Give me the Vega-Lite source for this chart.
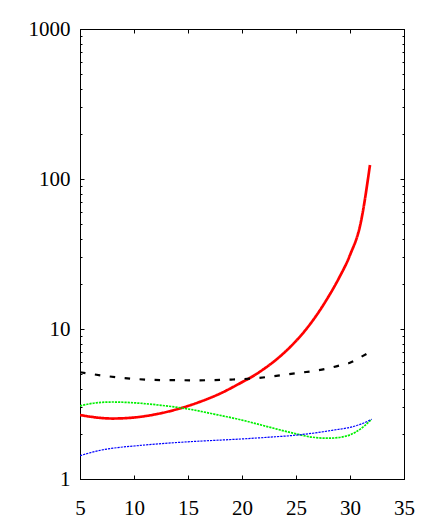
{
  "$schema": "https://vega.github.io/schema/vega-lite/v6.json",
  "width": 324,
  "height": 450,
  "autosize": "none",
  "padding": {"left": 80, "top": 29, "right": 39, "bottom": 47},
  "background": "white",
  "config": {
    "view": {"stroke": "black", "strokeWidth": 1},
    "axis": {"labelFont": "Liberation Serif", "labelFontSize": 21, "labelColor": "black", "grid": false, "domainColor": "black", "tickColor": "black", "tickWidth": 1, "labelOverlap": false, "labelBound": false, "labelFlush": false}
  },
  "data": {
    "values": [
      {"x": 5, "y": 2.67, "s": "red"}, {"x": 6, "y": 2.6, "s": "red"}, {"x": 7, "y": 2.55, "s": "red"}, {"x": 8, "y": 2.53, "s": "red"}, {"x": 9, "y": 2.54, "s": "red"}, {"x": 10, "y": 2.57, "s": "red"}, {"x": 12, "y": 2.7, "s": "red"}, {"x": 14, "y": 2.92, "s": "red"}, {"x": 16, "y": 3.25, "s": "red"}, {"x": 18, "y": 3.72, "s": "red"}, {"x": 20, "y": 4.42, "s": "red"}, {"x": 21, "y": 4.84, "s": "red"}, {"x": 22, "y": 5.4, "s": "red"}, {"x": 23, "y": 6.11, "s": "red"}, {"x": 24, "y": 7.05, "s": "red"}, {"x": 25, "y": 8.32, "s": "red"}, {"x": 26, "y": 10.09, "s": "red"}, {"x": 27, "y": 12.65, "s": "red"}, {"x": 28, "y": 16.4, "s": "red"}, {"x": 29, "y": 22.0, "s": "red"}, {"x": 30, "y": 31.1, "s": "red"}, {"x": 31, "y": 51.3, "s": "red"}, {"x": 31.85, "y": 124, "s": "red"},
      {"x": 5, "y": 5.15, "s": "black"}, {"x": 7, "y": 4.9, "s": "black"}, {"x": 10, "y": 4.65, "s": "black"}, {"x": 13, "y": 4.56, "s": "black"}, {"x": 16, "y": 4.55, "s": "black"}, {"x": 19, "y": 4.6, "s": "black"}, {"x": 21, "y": 4.68, "s": "black"}, {"x": 23, "y": 4.85, "s": "black"}, {"x": 25, "y": 5.07, "s": "black"}, {"x": 27, "y": 5.3, "s": "black"}, {"x": 28, "y": 5.47, "s": "black"}, {"x": 29, "y": 5.7, "s": "black"}, {"x": 30, "y": 5.95, "s": "black"}, {"x": 31, "y": 6.5, "s": "black"}, {"x": 32, "y": 7.1, "s": "black"},
      {"x": 5, "y": 3.07, "s": "green"}, {"x": 6.5, "y": 3.22, "s": "green"}, {"x": 8, "y": 3.26, "s": "green"}, {"x": 10, "y": 3.22, "s": "green"}, {"x": 12.5, "y": 3.1, "s": "green"}, {"x": 15, "y": 2.93, "s": "green"}, {"x": 17.5, "y": 2.7, "s": "green"}, {"x": 20, "y": 2.47, "s": "green"}, {"x": 22.5, "y": 2.22, "s": "green"}, {"x": 25, "y": 2.0, "s": "green"}, {"x": 26.5, "y": 1.9, "s": "green"}, {"x": 28, "y": 1.87, "s": "green"}, {"x": 29.5, "y": 1.92, "s": "green"}, {"x": 30.5, "y": 2.05, "s": "green"}, {"x": 31.3, "y": 2.25, "s": "green"}, {"x": 32, "y": 2.5, "s": "green"},
      {"x": 5, "y": 1.43, "s": "blue"}, {"x": 6, "y": 1.5, "s": "blue"}, {"x": 7, "y": 1.56, "s": "blue"}, {"x": 8.5, "y": 1.62, "s": "blue"}, {"x": 10, "y": 1.66, "s": "blue"}, {"x": 12.5, "y": 1.72, "s": "blue"}, {"x": 15, "y": 1.77, "s": "blue"}, {"x": 17.5, "y": 1.81, "s": "blue"}, {"x": 20, "y": 1.85, "s": "blue"}, {"x": 22.5, "y": 1.9, "s": "blue"}, {"x": 25, "y": 1.96, "s": "blue"}, {"x": 27, "y": 2.04, "s": "blue"}, {"x": 28.5, "y": 2.12, "s": "blue"}, {"x": 30, "y": 2.21, "s": "blue"}, {"x": 31, "y": 2.32, "s": "blue"}, {"x": 32, "y": 2.5, "s": "blue"}
    ]
  },
  "resolve": {"axis": {"x": "independent", "y": "independent"}},
  "layer": [
    {
      "mark": {"type": "line", "interpolate": "monotone", "clip": true},
      "encoding": {
        "x": {"field": "x", "type": "quantitative", "scale": {"domain": [5, 35], "nice": false, "zero": false},
          "axis": {"orient": "bottom", "title": null, "values": [5, 10, 15, 20, 25, 30, 35], "tickSize": -4, "labelPadding": 22, "format": "d"}},
        "y": {"field": "y", "type": "quantitative", "scale": {"type": "log", "domain": [1, 1000], "nice": false},
          "axis": {"orient": "left", "title": null, "values": [1,2,3,4,5,6,7,8,9,10,20,30,40,50,60,70,80,90,100,200,300,400,500,600,700,800,900,1000],
            "tickSize": {"condition": {"test": "datum.value == 1 || datum.value == 10 || datum.value == 100 || datum.value == 1000", "value": -4}, "value": -2},
            "labelExpr": "(datum.value == 1 || datum.value == 10 || datum.value == 100 || datum.value == 1000) ? format(datum.value, 'd') : ''",
            "labelPadding": 14}},
        "color": {"field": "s", "type": "nominal", "scale": {"domain": ["red", "black", "green", "blue"], "range": ["#ff0000", "#000000", "#00f000", "#0000ff"]}, "legend": null},
        "strokeDash": {"field": "s", "type": "nominal", "scale": {"domain": ["red", "black", "green", "blue"], "range": [[1, 0], [5.5, 9.5], [2.2, 1], [2.2, 1]]}, "legend": null},
        "strokeWidth": {"field": "s", "type": "nominal", "scale": {"domain": ["red", "black", "green", "blue"], "range": [2.7, 1.2, 3.3, 3]}, "legend": null}
      }
    },
    {
      "mark": {"type": "point", "opacity": 0},
      "encoding": {
        "x": {"field": "x", "type": "quantitative",
          "axis": {"orient": "top", "title": null, "values": [5, 10, 15, 20, 25, 30, 35], "tickSize": -4, "labels": false}},
        "y": {"field": "y", "type": "quantitative",
          "axis": {"orient": "right", "title": null, "values": [1,2,3,4,5,6,7,8,9,10,20,30,40,50,60,70,80,90,100,200,300,400,500,600,700,800,900,1000],
            "tickSize": {"condition": {"test": "datum.value == 1 || datum.value == 10 || datum.value == 100 || datum.value == 1000", "value": -4}, "value": -2},
            "labels": false}}
      }
    }
  ]
}
